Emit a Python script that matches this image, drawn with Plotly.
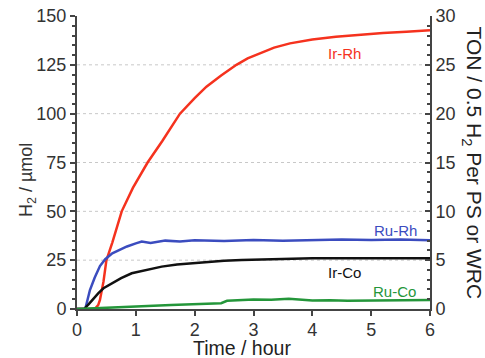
import plotly.graph_objects as go

# ---- data ----
t_irrh = [0, 0.30, 0.36, 0.39, 0.45, 0.50, 0.6, 0.76, 0.95, 1.2, 1.45, 1.75, 2.0, 2.2, 2.45, 2.71, 2.9, 3.11, 3.35, 3.62, 4.0, 4.4, 4.8, 5.2, 5.6, 6.0]
v_irrh = [0, 0, 2, 4.6, 14, 25, 34, 50, 62, 75, 86, 100, 108, 113.8, 119.5, 125, 128.3, 131, 133.8, 136.0, 138.0, 139.4, 140.4, 141.3, 141.9, 142.7]

t_rurh = [0, 0.14, 0.22, 0.3, 0.39, 0.48, 0.6, 0.73, 0.85, 1.0, 1.1, 1.25, 1.5, 1.75, 2.0, 2.5, 3.0, 3.5, 4.0, 4.5, 5.0, 5.5, 6.0]
v_rurh = [0, 0, 9.7, 16, 22, 25.5, 28.5, 30.5, 32, 33.6, 34.5, 33.8, 35, 34.5, 35.2, 34.8, 35.3, 35, 35.4, 35.6, 35.3, 35.6, 35.2]

t_irco = [0, 0.12, 0.2, 0.28, 0.36, 0.45, 0.59, 0.75, 0.93, 1.1, 1.25, 1.44, 1.7, 1.95, 2.2, 2.5, 2.8, 3.0, 3.5, 4.0, 4.5, 5.0, 5.5, 6.0]
v_irco = [0, 0, 2.5, 5.5, 8, 10.6, 13.1, 15.8, 18.3, 19.5, 20.5, 21.7, 22.8, 23.5, 24.2, 24.7, 25.1, 25.3, 25.8, 26, 26, 26, 26.1, 26]

t_ruco = [0, 0.3, 0.6, 1.0, 1.3, 1.6, 2.0, 2.3, 2.45, 2.55, 2.8, 3.0, 3.3, 3.6, 4.0, 4.3, 4.6, 5.0, 5.5, 6.0]
v_ruco = [0, 0.3, 0.6, 1.2, 1.6, 2.0, 2.6, 2.8, 3.0, 4.2, 4.6, 4.9, 4.7, 5.2, 4.4, 4.5, 4.2, 4.4, 4.3, 4.6]

series_names = ["Ir-Rh", "Ru-Rh", "Ir-Co", "Ru-Co"]
series_colors = ["#f5321e", "#3b4cbf", "#111111", "#24963a"]
label_pos = [(4.55, 131), (5.41, 40), (4.55, 18.5), (5.39, 9)]  # label anchors (hour, µmol)

grid_vals = [25, 50, 75, 100, 125]
left_ticks = [0, 25, 50, 75, 100, 125, 150]
right_ticks = [0, 5, 10, 15, 20, 25, 30]
x_ticks = [0, 1, 2, 3, 4, 5, 6]

FAM = "Arial, Liberation Sans, sans-serif"
axfont = dict(size=18, color="#333333", family=FAM)
titlefont = dict(size=21, color="#222222", family=FAM)
xtitlefont = dict(size=19.5, color="#222222", family=FAM)

fig = go.Figure()
for tx, vy, name, col in zip([t_irrh, t_rurh, t_irco, t_ruco],
                             [v_irrh, v_rurh, v_irco, v_ruco],
                             series_names, series_colors):
    fig.add_trace(go.Scatter(x=tx, y=vy, mode="lines", name=name,
                             line=dict(color=col, width=2.5), showlegend=False))

# invisible trace to anchor the right axis
fig.add_trace(go.Scatter(x=[0], y=[0], yaxis="y2", mode="markers",
                         marker=dict(opacity=0, size=1), showlegend=False, hoverinfo="skip"))

for g in grid_vals:
    fig.add_shape(type="line", xref="x", yref="y", x0=0, x1=6, y0=g, y1=g,
                  line=dict(color="#c8c8c8", width=1, dash="dot"), layer="below")

for (lx, ly), name, col in zip(label_pos, series_names, series_colors):
    fig.add_annotation(x=lx, y=ly, xref="x", yref="y", text=name, showarrow=False,
                       font=dict(size=15, color=col, family=FAM))

fig.update_layout(
    width=485, height=358,
    margin=dict(l=77, r=55, t=16, b=49),
    paper_bgcolor="white", plot_bgcolor="white",
    font=axfont,
    xaxis=dict(range=[0, 6], tickvals=x_ticks, ticks="outside", ticklen=5, tickwidth=1.5,
               tickcolor="#444", showline=True, linecolor="#444", linewidth=2,
               showgrid=False, zeroline=False, tickfont=axfont, automargin=False,
               ticklabelstandoff=-2),
    yaxis=dict(range=[0, 150], tickvals=left_ticks, ticks="outside", ticklen=5, tickwidth=1.5,
               tickcolor="#444", showline=True, linecolor="#444", linewidth=2,
               showgrid=False, zeroline=False, tickfont=axfont, automargin=False,
               minor=dict(dtick=5, ticks="outside", ticklen=3, tickcolor="#444", showgrid=False)),
    yaxis2=dict(range=[0, 30], tickvals=right_ticks, overlaying="y", side="right",
                ticks="inside", ticklen=5, tickwidth=1.5, tickcolor="#444",
                showline=True, linecolor="#444", linewidth=2, showgrid=False, zeroline=False,
                tickfont=axfont, automargin=False,
                minor=dict(dtick=1, ticks="inside", ticklen=3, tickcolor="#444", showgrid=False)),
)

# axis titles
fig.add_annotation(x=1.0, xref="paper", xanchor="center", xshift=43, y=0.5, yref="paper",
                   text="TON / 0.5 H<sub>2</sub> Per PS or WRC", textangle=90, showarrow=False,
                   font=titlefont)
fig.add_annotation(x=0.0, xref="paper", xanchor="center", xshift=-50, y=0.44, yref="paper",
                   text="H<sub>2</sub> / µmol", textangle=-90, showarrow=False, font=axfont)
fig.add_annotation(x=0.467, xref="paper", y=0.0, yref="paper", yanchor="middle", yshift=-38.5,
                   text="Time / hour", showarrow=False, font=xtitlefont)

fig.write_html("out.html", config={"displayModeBar": False},
               post_script="document.body.style.margin='0';document.body.style.overflow='hidden';")
